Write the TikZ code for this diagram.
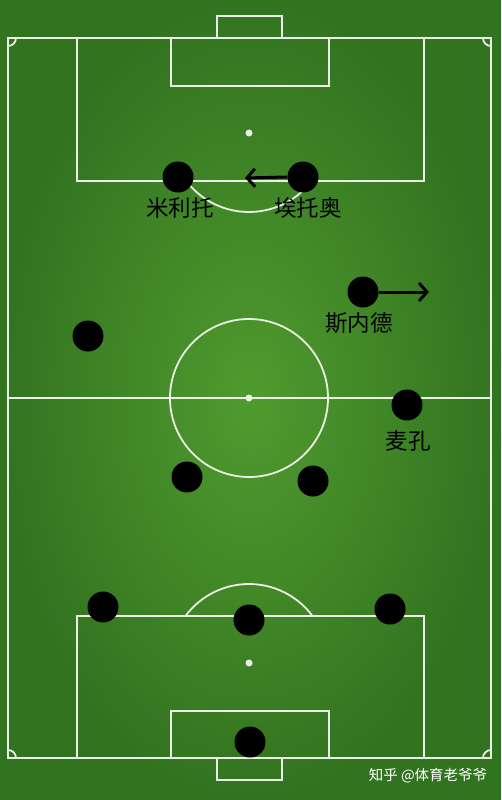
\documentclass[tikz,border=0pt]{standalone}
\usepackage{fontspec}
\newfontfamily\cjk{Noto Sans CJK SC}
\usetikzlibrary{arrows.meta}
\definecolor{grassA}{RGB}{80,155,46}
\definecolor{grassB}{RGB}{50,115,32}
\definecolor{chalk}{RGB}{235,240,228}
\tikzset{
  pitchline/.style={draw=chalk, line width=1.8pt},
  player/.style={circle, fill=black, minimum size=31pt, inner sep=0pt},
  pname/.style={font=\cjk\fontsize{22.5}{22.5}\selectfont, text=black, inner sep=0pt},
  run/.style={line width=3pt, -{Straight Barb[length=8pt,width=18pt,line width=3pt]}}
}
\begin{document}
\begin{tikzpicture}[x=1pt,y=-1pt]
\useasboundingbox (0,0) rectangle (501,800);
% grass
\shade[inner color=grassA, outer color=grassB] (0,0) rectangle (501,800);
% outline
\draw[pitchline] (8,38) rectangle (491,758);
\draw[pitchline] (8,398) -- (491,398);
\draw[pitchline] (249,398) circle[radius=79];
\fill[chalk] (249,398) circle[radius=3.5];
% top end
\draw[pitchline] (217,38) -- (217,16) -- (282,16) -- (282,38);
\draw[pitchline] (77,38) rectangle (424,181);
\draw[pitchline] (171,38) rectangle (329,86);
\fill[chalk] (249,133) circle[radius=3.5];
\draw[pitchline] (249,133) ++(37.4:79) arc[start angle=37.4, end angle=142.6, radius=79];
% bottom end
\draw[pitchline] (217,758) -- (217,780) -- (282,780) -- (282,758);
\draw[pitchline] (77,616) rectangle (424,758);
\draw[pitchline] (171,711) rectangle (329,758);
\fill[chalk] (249,663) circle[radius=3.5];
\draw[pitchline] (249,663) ++(-36.5:79) arc[start angle=-36.5, end angle=-143.5, radius=79];
% corner arcs
\draw[pitchline] (16,38) arc[start angle=0, end angle=90, radius=8];
\draw[pitchline] (483,38) arc[start angle=180, end angle=90, radius=8];
\draw[pitchline] (16,758) arc[start angle=0, end angle=-90, radius=8];
\draw[pitchline] (483,758) arc[start angle=180, end angle=270, radius=8];
% players
\node[player] (milito) at (178,177) {};
\node[player] (etoo) at (303,177) {};
\node[player] (sneijder) at (363,292) {};
\node[player] (maicon) at (407,405) {};
\node[player] (lw) at (88,336) {};
\node[player] (cm1) at (187,477) {};
\node[player] (cm2) at (313,481) {};
\node[player] (lb) at (103,607) {};
\node[player] (cb) at (249,620) {};
\node[player] (rb) at (390,609) {};
\node[player] (gk) at (250,742) {};
% labels
\node[pname] (milito-l) at (180,208) {米利托};
\node[pname] (etoo-l) at (308,208) {埃托奥};
\node[pname] (sneijder-l) at (359,323) {斯内德};
\node[pname] (maicon-l) at (408,441) {麦孔};
% runs
\coordinate (etoo-to) at (245,178);
\coordinate (sneijder-to) at (429,292);
\draw[run] (etoo.west) -- (etoo-to);
\draw[run] (sneijder.east) -- (sneijder-to);
% watermark
\node[font=\cjk\fontsize{14.5}{14.5}\selectfont, text=white, inner sep=0pt] (wm) at (428,776) {知乎 @体育老爷爷};
\end{tikzpicture}
\end{document}
